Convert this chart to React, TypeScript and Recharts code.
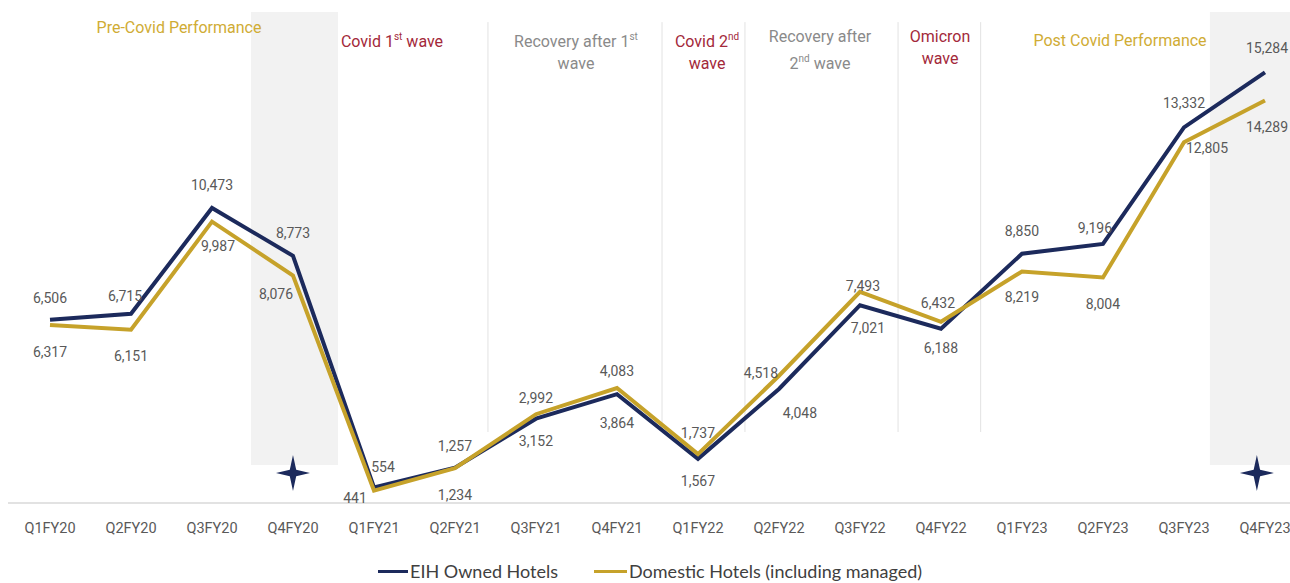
import React from "react"
import {
  LineChart,
  Line,
  XAxis,
  YAxis,
  ReferenceArea,
  ReferenceLine,
  ReferenceDot,
  LabelList,
  Legend,
} from "recharts"

const quarters = [
  "Q1FY20", "Q2FY20", "Q3FY20", "Q4FY20",
  "Q1FY21", "Q2FY21", "Q3FY21", "Q4FY21",
  "Q1FY22", "Q2FY22", "Q3FY22", "Q4FY22",
  "Q1FY23", "Q2FY23", "Q3FY23", "Q4FY23",
]

const eihOwned = [6506, 6715, 10473, 8773, 554, 1257, 2992, 3864, 1567, 4048, 7021, 6188, 8850, 9196, 13332, 15284]
const domestic = [6317, 6151, 9987, 8076, 441, 1234, 3152, 4083, 1737, 4518, 7493, 6432, 8219, 8004, 12805, 14289]

// where each value label sits relative to its point [dx, dy]
const eihLabelOffset = [
  [0, -22], [-6, -18], [0, -23], [0, -23], [9, -20], [0, -22], [0, -21], [0, 29],
  [0, 22], [21, 24], [8, 23], [0, 19], [0, -23], [-8, -16], [0, -24], [2, -24],
]
const domesticLabelOffset = [
  [0, 27], [0, 26], [6, 24], [-17, 19], [-19, 7], [0, 27], [0, 27], [0, -17],
  [0, -21], [-18, -3], [3, -6], [-3, -19], [0, 26], [0, 26], [23, 6], [2, 27],
]

const NAVY = "#1c2a5c"
const GOLD = "#c6a22a"
const RED = "#a3293a"
const GREY_TEXT = "#8a8a8a"
const LABEL = "#595959"
const FONT = "Roboto, 'Liberation Sans', Arial, sans-serif"

const data = quarters.map((q, i) => ({
  idx: i,
  quarter: q,
  eih: eihOwned[i],
  domestic: domestic[i],
}))

const phases = [
  { lines: ["Pre-Covid Performance"], x: 179, y: 28, color: "#d0ac35" },
  { lines: [["Covid 1", "st", " wave"]], x: 392, y: 37, color: RED },
  { lines: [["Recovery after 1", "st", ""], "wave"], x: 576, y: 37, color: GREY_TEXT },
  { lines: [["Covid 2", "nd", ""], "wave"], x: 707, y: 37, color: RED },
  { lines: ["Recovery after", ["2", "nd", " wave"]], x: 820, y: 37, color: GREY_TEXT },
  { lines: ["Omicron", "wave"], x: 940, y: 37, color: RED },
  { lines: ["Post Covid Performance"], x: 1120, y: 41, color: "#d0ac35" },
]

const separators = [5.407, 7.556, 8.58, 10.47, 11.49]

const makeLabel = (offsets: number[][]) => (props: any) => {
  const { x, y, index, value } = props
  const [dx, dy] = offsets[index] || [0, 0]
  return (
    <text
      x={x + dx}
      y={y + dy}
      textAnchor="middle"
      dominantBaseline="central"
      fill={LABEL}
      fontSize={14}
      fontFamily={FONT}
    >
      {Number(value).toLocaleString("en-US")}
    </text>
  )
}

const Star = (props: any) => {
  const { cx, cy } = props
  const a = 17
  const b = 3.2
  const d = `M ${cx} ${cy - a - 1} L ${cx + b} ${cy - b} L ${cx + a} ${cy} L ${cx + b} ${cy + b} L ${cx} ${cy + a + 1} L ${cx - b} ${cy + b} L ${cx - a} ${cy} L ${cx - b} ${cy - b} Z`
  return <path d={d} fill={NAVY} />
}

const renderLegend = () => (
  <div style={{ display: "flex", alignItems: "center", fontFamily: "Lato, 'Open Sans', sans-serif", fontSize: 18, color: "#404040" }}>
    <span style={{ display: "inline-block", width: 30, height: 3, background: NAVY, marginLeft: 378 }} />
    <span style={{ marginLeft: 2 }}>EIH Owned Hotels</span>
    <span style={{ display: "inline-block", width: 33, height: 3, background: GOLD, marginLeft: 36 }} />
    <span style={{ marginLeft: 2 }}>Domestic Hotels (including managed)</span>
  </div>
)

const renderPhaseLine = (line: any, key: number) => {
  if (typeof line === "string") return <div key={key}>{line}</div>
  return (
    <div key={key}>
      {line[0]}
      <sup style={{ fontSize: 10, verticalAlign: 7 }}>{line[1]}</sup>
      {line[2]}
    </div>
  )
}

export default function App() {
  return (
    <div style={{ position: "absolute", left: 0, top: 0, width: 1290, height: 583, background: "#fff" }}>
      <LineChart width={1290} height={583} data={data} margin={{ top: 10, right: 0, bottom: 50, left: 8 }}>
        <XAxis
          dataKey="idx"
          type="number"
          domain={[-0.5185, 15.309]}
          ticks={quarters.map((_, i) => i)}
          interval={0}
          tickFormatter={(v: number) => quarters[v]}
          tick={{ fill: LABEL, fontSize: 14.5, fontFamily: FONT }}
          tickLine={false}
          tickMargin={14}
          height={30}
          axisLine={{ stroke: "#d9d9d9", strokeWidth: 1.5 }}
          allowDataOverflow
        />
        <YAxis hide domain={[0, 17500]} allowDataOverflow />
        <ReferenceArea x1={2.481} x2={3.556} y1={1350} y2={17430} fill="#f2f2f2" fillOpacity={1} stroke="none" />
        <ReferenceArea x1={14.32} x2={15.309} y1={1350} y2={17430} fill="#f2f2f2" fillOpacity={1} stroke="none" />
        {separators.map((s) => (
          <ReferenceLine
            key={s}
            segment={[{ x: s, y: 2520 }, { x: s, y: 17070 }]}
            stroke="#e2e2e2"
            strokeWidth={1}
          />
        ))}
        <ReferenceDot x={3} y={1065} r={17} shape={Star} />
        <ReferenceDot x={14.9} y={1065} r={17} shape={Star} />
        <Line
          type="linear"
          dataKey="eih"
          name="EIH Owned Hotels"
          stroke={NAVY}
          strokeWidth={4}
          dot={false}
          activeDot={false}
          isAnimationActive={false}
        >
          <LabelList dataKey="eih" content={makeLabel(eihLabelOffset)} />
        </Line>
        <Line
          type="linear"
          dataKey="domestic"
          name="Domestic Hotels (including managed)"
          stroke={GOLD}
          strokeWidth={4}
          dot={false}
          activeDot={false}
          isAnimationActive={false}
        >
          <LabelList dataKey="domestic" content={makeLabel(domesticLabelOffset)} />
        </Line>
        <Legend
          layout="horizontal"
          verticalAlign="middle"
          content={renderLegend}
          wrapperStyle={{ top: 560, left: 0, width: 1290, height: 22 }}
        />
      </LineChart>
      {phases.map((p, i) => (
        <div
          key={i}
          style={{
            position: "absolute",
            left: p.x,
            top: p.y - 11,
            transform: "translateX(-50%)",
            textAlign: "center",
            whiteSpace: "nowrap",
            color: p.color,
            fontFamily: FONT,
            fontSize: 16,
            lineHeight: "22px",
          }}
        >
          {p.lines.map((l, j) => renderPhaseLine(l, j))}
        </div>
      ))}
    </div>
  )
}
